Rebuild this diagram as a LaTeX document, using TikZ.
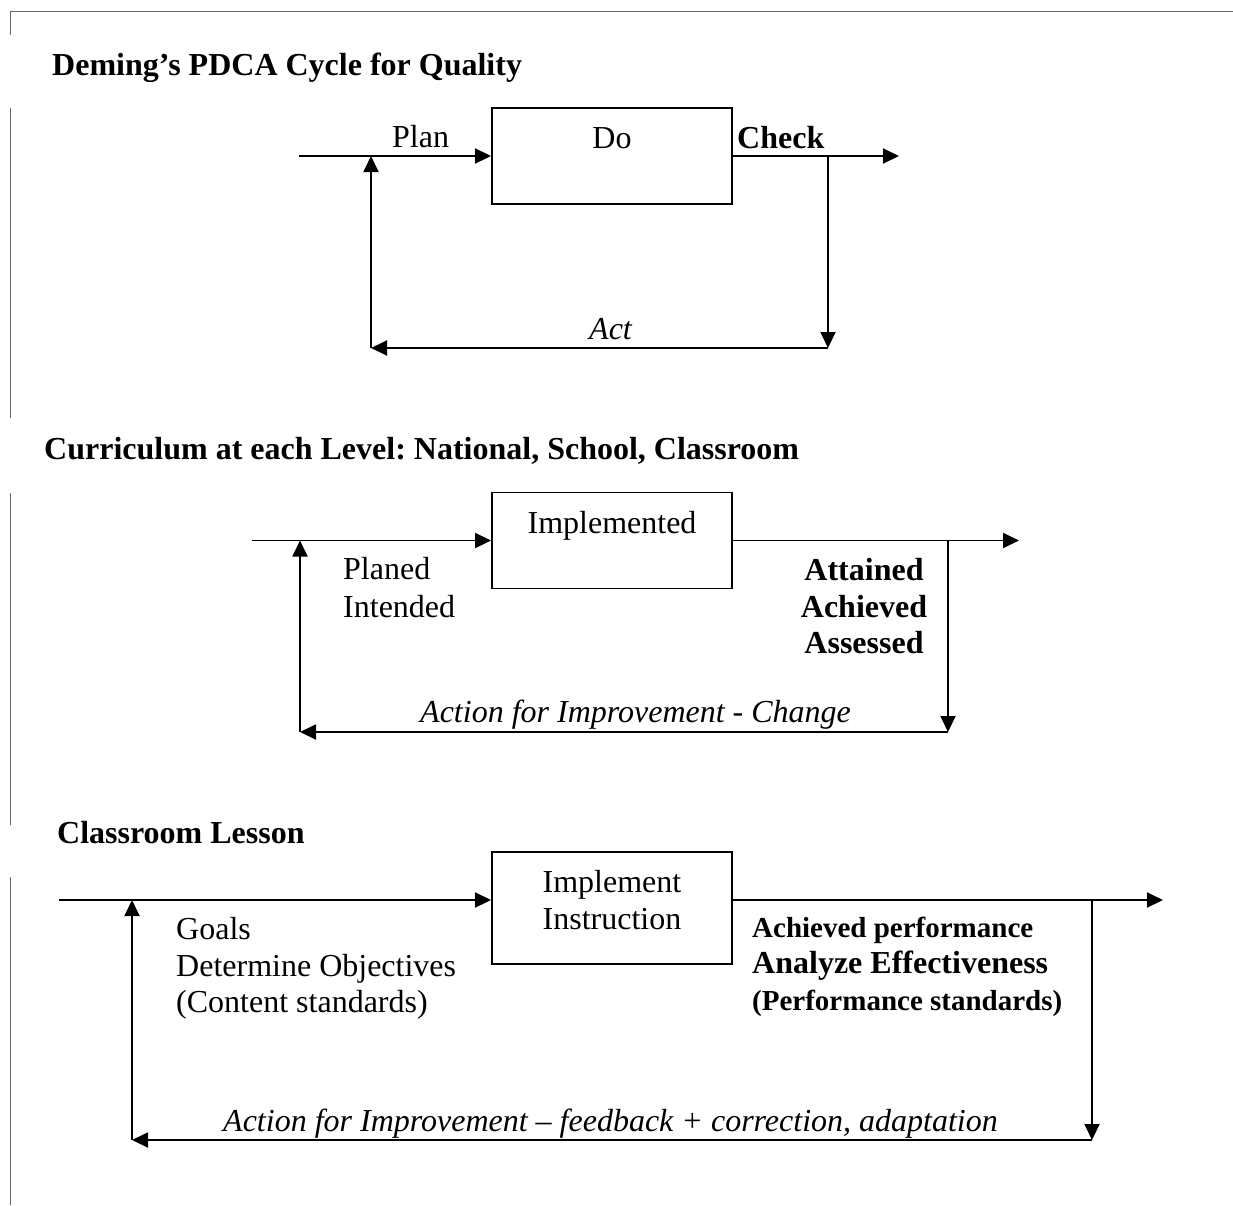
\documentclass[tikz,border=0pt]{standalone}
\usepackage{fontspec}
\setmainfont{Liberation Serif}
\usetikzlibrary{arrows.meta}
\frenchspacing
\begin{document}
\begin{tikzpicture}[x=1pt,y=-1pt,
  conn/.style={line width=1.9pt,-{Triangle[length=16pt,width=15pt]}},
  blockbox/.style={draw,line width=1.9pt,minimum width=240pt,inner sep=0pt},
  txt/.style={inner sep=0pt,font=\fontsize{32}{37}\selectfont},
  bold/.style={inner sep=0pt,font=\fontsize{32}{37}\selectfont\bfseries},
  smallbold/.style={inner sep=0pt,font=\fontsize{29}{34}\selectfont\bfseries},
  ital/.style={inner sep=0pt,font=\fontsize{32}{37}\selectfont\itshape},
  frameline/.style={draw=black!60,line width=1pt}]
\useasboundingbox (0,0) rectangle (1233,1205);
% page frame
\draw[frameline] (10.5,1205) -- (10.5,877);
\draw[frameline] (10.5,825) -- (10.5,493);
\draw[frameline] (10.5,418) -- (10.5,108);
\draw[frameline] (10.5,35) -- (10.5,11) -- (1233,11);

% ---------- Section 1 ----------
\node[bold,anchor=base west] (t1) at (52,75) {Deming’s PDCA Cycle for Quality};
\node[blockbox,minimum height=96pt] (do) at (612,156) {};
\node[txt,anchor=base] (dotxt) at (612,148) {Do};
\node[txt,anchor=base west] (plan) at (392,147) {Plan};
\node[bold,anchor=base west] (check) at (737,148) {Check};
\node[ital,anchor=base west] (act) at (589,339) {Act};
\coordinate (a1in) at (299,156);
\coordinate (a1out) at (899,156);
\coordinate (a1jl) at (371,156);
\coordinate (a1jr) at (828,156);
\coordinate (a1br) at (828,348);
\coordinate (a1bl) at (371,348);
\draw[conn] (a1in) -- (do.west);
\draw[conn] (do.east) -- (a1out);
\draw[conn] (a1jr) -- (a1br);
\draw[conn] (a1br) -- (a1bl);
\draw[conn] (a1bl) -- (a1jl);

% ---------- Section 2 ----------
\node[bold,anchor=base west] (t2) at (44,459) {Curriculum at each Level: National, School, Classroom};
\node[blockbox,minimum height=96pt] (impl) at (612,540.5) {};
\node[txt,anchor=base] (impltxt) at (612,533) {Implemented};
\node[txt,anchor=base west] (planed) at (343,579) {Planed};
\node[txt,anchor=base west] (intended) at (343,617) {Intended};
\node[bold,anchor=base] (attained) at (864,580) {Attained};
\node[bold,anchor=base] (achieved) at (864,617) {Achieved};
\node[bold,anchor=base] (assessed) at (864,653) {Assessed};
\node[ital,anchor=base west] (aic) at (420,722) {Action for Improvement - Change};
\coordinate (a2in) at (252,540.5);
\coordinate (a2out) at (1019,540.5);
\coordinate (a2jl) at (300,540.5);
\coordinate (a2jr) at (948,540.5);
\coordinate (a2br) at (948,732);
\coordinate (a2bl) at (300,732);
\draw[conn] (a2in) -- (impl.west);
\draw[conn] (impl.east) -- (a2out);
\draw[conn] (a2jr) -- (a2br);
\draw[conn] (a2br) -- (a2bl);
\draw[conn] (a2bl) -- (a2jl);

% ---------- Section 3 ----------
\node[bold,anchor=base west] (t3) at (57,843) {Classroom Lesson};
\node[blockbox,minimum height=112pt] (instr) at (612,908) {};
\node[txt,anchor=base] (instr1) at (612,892) {Implement};
\node[txt,anchor=base] (instr2) at (612,929) {Instruction};
\node[txt,anchor=base west] (goals) at (176,939) {Goals};
\node[txt,anchor=base west] (detobj) at (176,976) {Determine Objectives};
\node[txt,anchor=base west] (content) at (176,1012) {(Content standards)};
\node[smallbold,anchor=base west] (achperf) at (752,937) {Achieved performance};
\node[bold,anchor=base west] (anaeff) at (752,973) {Analyze Effectiveness};
\node[smallbold,anchor=base west] (perfstd) at (752,1010) {(Performance standards)};
\node[ital,anchor=base west] (aifb) at (223,1131) {Action for Improvement – feedback + correction, adaptation};
\coordinate (a3in) at (59,900);
\coordinate (a3out) at (1163,900);
\coordinate (a3jl) at (132,900);
\coordinate (a3jr) at (1092,900);
\coordinate (a3br) at (1092,1140);
\coordinate (a3bl) at (132,1140);
\draw[conn] (a3in) -- (a3in -| instr.west);
\draw[conn] (a3in -| instr.east) -- (a3out);
\draw[conn] (a3jr) -- (a3br);
\draw[conn] (a3br) -- (a3bl);
\draw[conn] (a3bl) -- (a3jl);
\end{tikzpicture}
\end{document}
